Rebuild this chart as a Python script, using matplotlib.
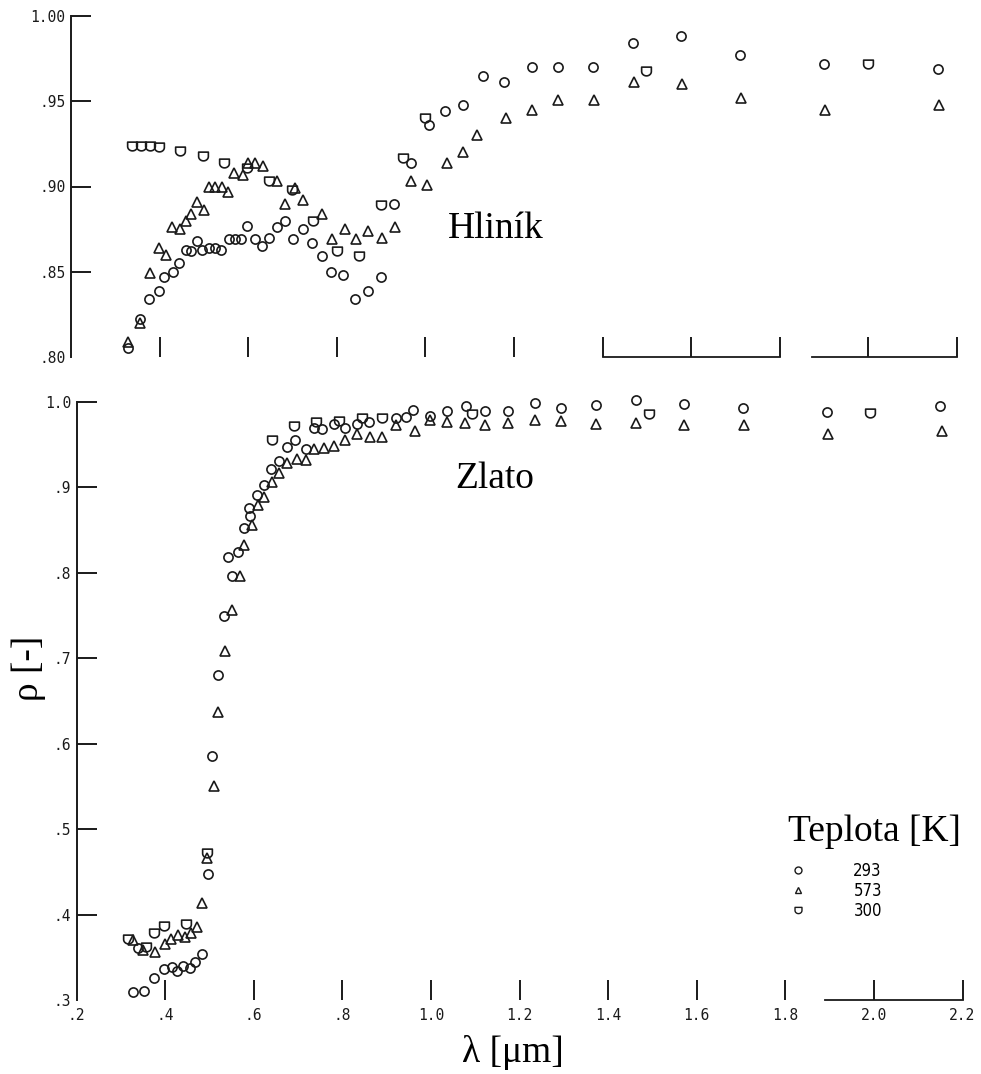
import numpy as np
import matplotlib.pyplot as plt
from matplotlib.path import Path
from matplotlib.lines import Line2D

# Hliník - reflectance vs. wavelength [um]
al_293_x = [0.329, 0.356, 0.377, 0.398, 0.411, 0.430, 0.444, 0.460, 0.471, 0.484, 0.496, 0.512,
            0.525, 0.539, 0.557, 0.570, 0.583, 0.598, 0.615, 0.631, 0.648, 0.665, 0.683, 0.702,
            0.723, 0.745, 0.767, 0.787, 0.815, 0.841, 0.870, 0.900, 0.930, 0.967, 1.008, 1.044,
            1.086, 1.129, 1.178, 1.240, 1.300, 1.379, 1.469, 1.577, 1.710, 1.900, 2.158]
al_293_y = [0.805, 0.822, 0.834, 0.839, 0.847, 0.850, 0.855, 0.863, 0.862, 0.868, 0.863, 0.864,
            0.864, 0.863, 0.869, 0.869, 0.869, 0.877, 0.869, 0.865, 0.870, 0.876, 0.880, 0.869,
            0.875, 0.867, 0.859, 0.850, 0.848, 0.834, 0.839, 0.847, 0.890, 0.914, 0.936, 0.944,
            0.948, 0.965, 0.961, 0.970, 0.970, 0.970, 0.984, 0.988, 0.977, 0.972, 0.969]
al_573_x = [0.329, 0.356, 0.378, 0.398, 0.414, 0.428, 0.446, 0.460, 0.471, 0.484, 0.500, 0.512,
            0.525, 0.540, 0.555, 0.569, 0.588, 0.599, 0.615, 0.633, 0.666, 0.683, 0.706, 0.723,
            0.767, 0.790, 0.819, 0.843, 0.870, 0.903, 0.931, 0.967, 1.004, 1.048, 1.084, 1.116,
            1.182, 1.241, 1.300, 1.381, 1.471, 1.580, 1.712, 1.902, 2.159]
al_573_y = [0.809, 0.820, 0.849, 0.864, 0.860, 0.876, 0.875, 0.880, 0.884, 0.891, 0.886, 0.900,
            0.900, 0.900, 0.897, 0.908, 0.907, 0.914, 0.914, 0.912, 0.903, 0.890, 0.899, 0.892,
            0.884, 0.869, 0.875, 0.869, 0.874, 0.870, 0.876, 0.903, 0.901, 0.914, 0.920, 0.930,
            0.940, 0.945, 0.951, 0.951, 0.961, 0.960, 0.952, 0.945, 0.948]
al_300_x = [0.337, 0.357, 0.378, 0.398, 0.447, 0.499, 0.546, 0.597, 0.648, 0.700, 0.747, 0.800,
            0.851, 0.900, 0.950, 0.998, 1.499, 1.998]
al_300_y = [0.924, 0.924, 0.924, 0.923, 0.921, 0.918, 0.914, 0.911, 0.903, 0.898, 0.880, 0.862,
            0.859, 0.889, 0.917, 0.940, 0.968, 0.972]

# Zlato
au_293_x = [0.327, 0.338, 0.352, 0.375, 0.397, 0.415, 0.427, 0.440, 0.457, 0.468, 0.483, 0.496,
            0.505, 0.519, 0.534, 0.542, 0.551, 0.564, 0.578, 0.589, 0.591, 0.608, 0.623, 0.640,
            0.658, 0.676, 0.694, 0.717, 0.735, 0.755, 0.781, 0.806, 0.833, 0.861, 0.922, 0.943,
            0.959, 0.998, 1.037, 1.080, 1.123, 1.174, 1.234, 1.293, 1.372, 1.463, 1.572, 1.704,
            1.895, 2.150]
au_293_y = [0.309, 0.361, 0.311, 0.326, 0.336, 0.339, 0.334, 0.340, 0.338, 0.344, 0.354, 0.447,
            0.586, 0.680, 0.750, 0.818, 0.796, 0.824, 0.852, 0.876, 0.867, 0.891, 0.903, 0.922,
            0.931, 0.947, 0.956, 0.945, 0.970, 0.968, 0.974, 0.969, 0.974, 0.977, 0.981, 0.982,
            0.991, 0.984, 0.989, 0.995, 0.989, 0.990, 0.999, 0.993, 0.996, 1.002, 0.998, 0.993,
            0.988, 0.995]
au_573_x = [0.327, 0.350, 0.377, 0.399, 0.414, 0.430, 0.444, 0.459, 0.472, 0.483, 0.494, 0.510,
            0.519, 0.536, 0.551, 0.568, 0.579, 0.597, 0.609, 0.624, 0.642, 0.658, 0.676, 0.697,
            0.717, 0.736, 0.758, 0.782, 0.807, 0.833, 0.863, 0.890, 0.922, 0.963, 0.998, 1.037,
            1.078, 1.123, 1.174, 1.234, 1.293, 1.373, 1.463, 1.572, 1.706, 1.896, 2.154]
au_573_y = [0.370, 0.358, 0.356, 0.365, 0.371, 0.376, 0.374, 0.379, 0.386, 0.414, 0.466, 0.551,
            0.637, 0.708, 0.757, 0.796, 0.833, 0.856, 0.880, 0.889, 0.906, 0.917, 0.929, 0.933,
            0.932, 0.945, 0.946, 0.949, 0.956, 0.963, 0.959, 0.959, 0.973, 0.966, 0.979, 0.977,
            0.976, 0.973, 0.975, 0.979, 0.978, 0.974, 0.975, 0.973, 0.973, 0.962, 0.966]
au_300_x = [0.316, 0.357, 0.376, 0.397, 0.447, 0.494, 0.642, 0.692, 0.741, 0.792, 0.845, 0.890,
            1.093, 1.493, 1.992]
au_300_y = [0.371, 0.362, 0.378, 0.387, 0.389, 0.472, 0.956, 0.972, 0.977, 0.978, 0.981, 0.981,
            0.986, 0.986, 0.987]

temps = ['293', '573', '300']

x_ticks = [0.2, 0.4, 0.6, 0.8, 1.0, 1.2, 1.4, 1.6, 1.8, 2.0, 2.2]
x_labels = ['.2', '.4', '.6', '.8', '1.0', '1.2', '1.4', '1.6', '1.8', '2.0', '2.2']
al_ticks = [0.80, 0.85, 0.90, 0.95, 1.00]
al_labels = ['.80', '.85', '.90', '.95', '1.00']
au_ticks = [0.3, 0.4, 0.5, 0.6, 0.7, 0.8, 0.9, 1.0]
au_labels = ['.3', '.4', '.5', '.6', '.7', '.8', '.9', '1.0']

# cup shaped marker for 300 K: flat top, straight sides, rounded bottom
t = np.linspace(0, -np.pi, 25)
cup_verts = [(-1, 0.9), (1, 0.9)] + list(zip(np.cos(t), 0.9 * np.sin(t))) + [(-1, 0.9)]
cup_codes = [Path.MOVETO] + [Path.LINETO] * (len(cup_verts) - 2) + [Path.CLOSEPOLY]
cup = Path(cup_verts, cup_codes)

ink = '#1a1a1a'
markers = ['o', '^', cup]
sizes = [6.6, 6.8, 7.0]
serif = 'Liberation Serif'
mono = 'DejaVu Sans Mono'

W, H = 981, 1074
fig = plt.figure(figsize=(W / 100, H / 100), dpi=100)
ax1 = fig.add_axes([71 / W, 1 - 357 / H, 886 / W, 341 / H])
ax2 = fig.add_axes([76.5 / W, 1 - 1000 / H, 886 / W, 598 / H])


def draw(ax, series):
    for (x, y), m, s in zip(series, markers, sizes):
        ax.plot(x, y, ls='none', marker=m, ms=s, mfc='none', mec=ink, mew=1.2, clip_on=False)


draw(ax1, [(al_293_x, al_293_y), (al_573_x, al_573_y), (al_300_x, al_300_y)])
draw(ax2, [(au_293_x, au_293_y), (au_573_x, au_573_y), (au_300_x, au_300_y)])

for ax in (ax1, ax2):
    ax.set_xlim(0.2, 2.2)
    for s in ('top', 'right', 'bottom'):
        ax.spines[s].set_visible(False)
    ax.spines['left'].set_linewidth(1.4)
    ax.spines['left'].set_color(ink)
    ax.tick_params(direction='in', length=14.5, width=1.4, color=ink, pad=4,
                   labelsize=10.5, labelcolor=ink)
    ax.set_facecolor('none')

ax1.set_ylim(0.80, 1.00)
ax1.set_yticks(al_ticks, al_labels, fontfamily=mono)
ax1.set_xticks(x_ticks[1:])
ax1.tick_params(axis='x', labelbottom=False)
ax1.yaxis.get_major_ticks()[0].tick1line.set_visible(False)
# broken baseline on the right part of the upper panel
ax1.axhline(0.80, xmin=0.6, xmax=0.8, color=ink, lw=1.3, clip_on=False)
ax1.axhline(0.80, xmin=0.836, xmax=1.0, color=ink, lw=1.3, clip_on=False)

ax2.set_ylim(0.3, 1.0)
ax2.set_yticks(au_ticks, au_labels, fontfamily=mono)
ax2.set_xticks(x_ticks, x_labels, fontfamily=mono)
ax2.tick_params(axis='x', pad=6)
ax2.yaxis.get_major_ticks()[0].tick1line.set_visible(False)
ax2.xaxis.get_major_ticks()[0].tick1line.set_visible(False)
ax2.spines['bottom'].set_visible(True)
ax2.spines['bottom'].set_bounds(1.89, 2.2)
ax2.spines['bottom'].set_linewidth(1.3)
ax2.spines['bottom'].set_color(ink)

fig.text(496 / W, 1 - 238 / H, 'Hliník', family=serif, fontsize=27, ha='center', va='baseline')
fig.text(495 / W, 1 - 488 / H, 'Zlato', family=serif, fontsize=27, ha='center', va='baseline')
fig.text(29 / W, 1 - 668 / H, 'ρ [-]', family=serif, fontsize=27, rotation=90,
         ha='center', va='center')
fig.text(513 / W, 1 - 1062 / H, 'λ [μm]', family=serif, fontsize=27, ha='center', va='baseline')
fig.text(788 / W, 1 - 841 / H, 'Teplota [K]', family=serif, fontsize=27, ha='left', va='baseline')

handles = [Line2D([], [], ls='none', marker=m, ms=5.0, mfc='none', mec=ink, mew=1.0)
           for m in markers]
ax2.legend(handles, temps, loc='upper left', bbox_to_anchor=(790 / W, 1 - 862 / H),
           bbox_transform=fig.transFigure, frameon=False, borderpad=0, borderaxespad=0,
           handlelength=1.0, handletextpad=2.8, labelspacing=0.13,
           prop=dict(family='DejaVu Sans', stretch='condensed', size=12))

fig.savefig('out.png', dpi=100)
